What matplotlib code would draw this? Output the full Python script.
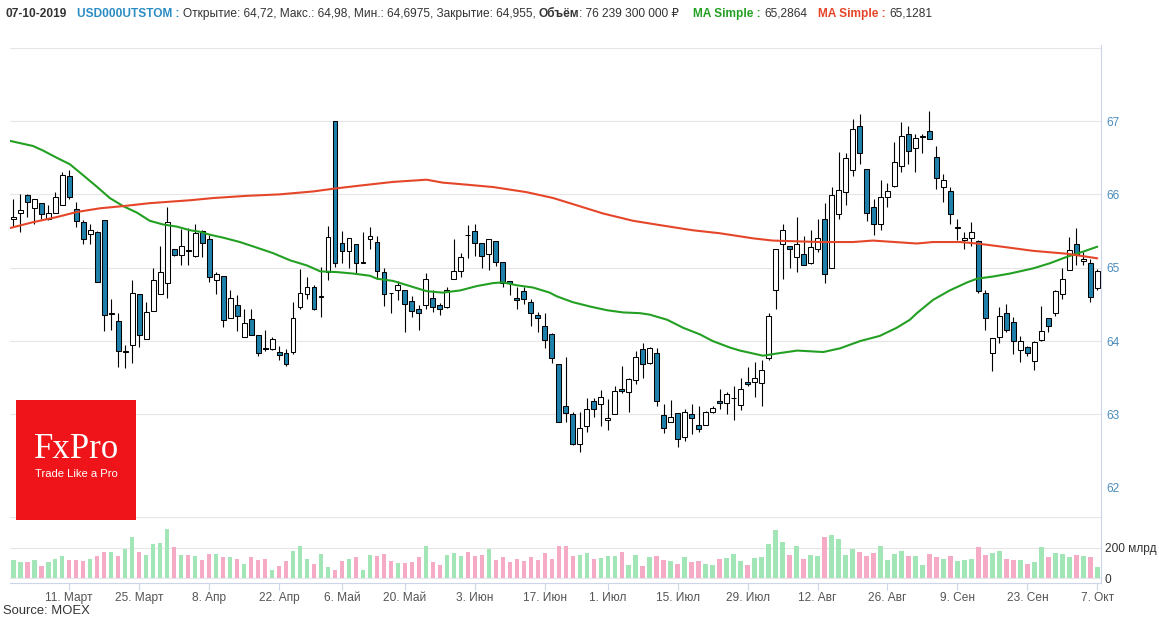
import matplotlib
matplotlib.use('Agg')
import matplotlib.pyplot as plt
from matplotlib.patches import Rectangle
from matplotlib.lines import Line2D
import numpy as np

# ---------------- data ----------------
opens = [65.66, 65.74, 65.99, 65.82, 65.88, 65.66, 65.75, 65.86, 66.25, 65.80,
         65.62, 65.46, 65.48, 65.65, 64.37, 64.27, 63.85, 63.95, 64.64, 64.03,
         64.41, 64.64, 64.79, 65.25, 65.17, 65.24, 65.16, 65.50, 65.39, 64.83,
         64.89, 64.31, 64.49, 64.05, 64.30, 64.08, 63.90, 63.89, 63.85, 63.84,
         63.85, 64.47, 64.64, 64.73, 64.60, 64.94, 67.00, 65.34, 65.23, 65.33,
         65.07, 65.39, 65.35, 64.94, 64.66, 64.69, 64.69, 64.54, 64.43, 64.49,
         64.59, 64.49, 64.47, 64.84, 64.95, 65.45, 65.50, 65.34, 65.19, 65.37,
         65.08, 64.82, 64.59, 64.68, 64.53, 64.36, 64.21, 64.09, 63.69, 63.12,
         63.00, 62.59, 62.84, 63.18, 63.14, 62.92, 63.00, 63.35, 63.30, 63.47,
         63.89, 63.70, 63.84, 62.99, 62.90, 63.02, 62.69, 63.00, 62.85, 62.85,
         63.03, 63.18, 63.16, 63.22, 63.13, 63.44, 63.44, 63.43, 63.77, 64.69,
         65.32, 65.29, 65.14, 65.18, 65.07, 65.25, 65.66, 65.00, 65.73, 66.03,
         66.33, 66.93, 66.34, 65.83, 65.60, 65.96, 66.12, 66.39, 66.83, 66.63,
         66.78, 66.86, 66.51, 66.10, 66.04, 65.54, 65.38, 65.41, 65.36, 64.65,
         63.84, 64.05, 64.38, 64.26, 63.88, 63.92, 63.73, 64.01, 64.31, 64.38,
         64.64, 64.97, 65.33, 65.09, 65.06, 64.72]
highs = [65.94, 66.01, 66.00, 65.93, 65.88, 65.85, 66.03, 66.30, 66.33, 65.89,
         65.65, 65.60, 65.50, 65.65, 64.57, 64.38, 63.94, 64.83, 64.64, 64.53,
         64.99, 65.29, 65.83, 65.25, 65.53, 65.54, 65.60, 65.51, 65.44, 64.94,
         64.89, 64.70, 64.63, 64.43, 64.44, 64.08, 64.15, 64.06, 63.93, 63.89,
         64.53, 64.98, 64.88, 64.76, 65.01, 65.57, 67.00, 65.50, 65.40, 65.33,
         65.48, 65.55, 65.43, 64.99, 64.66, 64.82, 64.69, 64.61, 64.49, 64.93,
         64.69, 64.52, 64.74, 65.39, 65.20, 65.58, 65.59, 65.34, 65.39, 65.37,
         65.08, 64.82, 64.73, 64.73, 64.57, 64.39, 64.38, 64.11, 63.69, 63.78,
         63.03, 63.03, 63.22, 63.23, 63.33, 63.21, 63.38, 63.66, 63.50, 63.87,
         63.98, 63.92, 63.90, 63.14, 63.19, 63.02, 63.08, 63.14, 63.12, 63.05,
         63.12, 63.34, 63.31, 63.38, 63.49, 63.65, 63.72, 63.74, 64.38, 65.26,
         65.59, 65.29, 65.69, 65.43, 65.52, 65.67, 65.88, 66.10, 66.58, 66.57,
         67.03, 67.10, 66.34, 65.93, 66.20, 66.16, 66.71, 66.98, 66.93, 66.83,
         66.83, 67.14, 66.66, 66.28, 66.10, 65.66, 65.48, 65.63, 65.38, 64.70,
         64.04, 64.46, 64.50, 64.33, 64.07, 63.93, 64.00, 64.48, 64.31, 64.70,
         65.00, 65.42, 65.54, 65.22, 65.12, 64.98]
lows = [65.56, 65.48, 65.69, 65.60, 65.66, 65.65, 65.75, 65.86, 65.94, 65.55,
        65.33, 65.32, 64.80, 64.14, 64.15, 63.65, 63.63, 63.70, 63.92, 64.03,
        64.41, 64.64, 64.59, 65.16, 65.04, 65.04, 65.14, 65.14, 64.81, 64.64,
        64.19, 64.31, 64.14, 64.05, 64.08, 63.80, 63.86, 63.88, 63.74, 63.66,
        63.83, 64.43, 64.58, 64.42, 64.33, 64.83, 65.01, 65.06, 65.00, 64.92,
        65.06, 65.26, 64.84, 64.48, 64.38, 64.56, 64.12, 64.33, 64.15, 64.44,
        64.39, 64.35, 64.45, 64.84, 64.88, 65.13, 65.16, 65.00, 64.97, 65.02,
        64.74, 64.63, 64.44, 64.50, 64.21, 64.13, 63.91, 63.70, 62.89, 62.89,
        62.58, 62.49, 62.76, 62.97, 62.84, 62.78, 63.00, 63.29, 63.03, 63.42,
        63.49, 63.68, 63.12, 62.75, 62.90, 62.56, 62.64, 62.73, 62.76, 62.85,
        63.02, 63.07, 63.00, 62.93, 63.06, 63.38, 63.24, 63.11, 63.74, 64.44,
        64.84, 65.00, 64.94, 65.03, 65.05, 65.22, 64.79, 65.00, 65.67, 65.86,
        66.25, 66.42, 65.64, 65.45, 65.52, 65.83, 66.10, 66.31, 66.42, 66.31,
        66.56, 66.75, 66.08, 65.89, 65.59, 65.38, 65.25, 65.29, 64.66, 64.15,
        63.59, 63.97, 64.12, 63.82, 63.72, 63.79, 63.61, 64.00, 64.12, 64.34,
        64.57, 64.97, 65.03, 65.03, 64.53, 64.6975]
closes = [65.69, 65.79, 65.89, 65.93, 65.73, 65.74, 65.97, 66.27, 65.96, 65.63,
          65.39, 65.51, 64.80, 64.35, 64.38, 63.86, 63.86, 64.65, 64.08, 64.39,
          64.83, 64.94, 65.63, 65.17, 65.29, 65.23, 65.47, 65.33, 64.87, 64.91,
          64.29, 64.59, 64.34, 64.25, 64.08, 63.83, 63.89, 64.03, 63.81, 63.68,
          64.31, 64.65, 64.73, 64.44, 64.61, 65.42, 65.07, 65.23, 65.40, 65.06,
          65.08, 65.43, 64.96, 64.64, 64.65, 64.77, 64.51, 64.41, 64.38, 64.84,
          64.46, 64.44, 64.70, 64.96, 65.15, 65.44, 65.33, 65.16, 65.39, 65.08,
          64.79, 64.79, 64.56, 64.57, 64.38, 64.31, 64.01, 63.77, 62.89, 63.02,
          62.59, 62.82, 63.07, 63.07, 63.23, 62.95, 63.32, 63.32, 63.48, 63.78,
          63.69, 63.90, 63.18, 62.81, 62.97, 62.66, 63.03, 62.95, 62.80, 63.03,
          63.08, 63.15, 63.28, 63.23, 63.35, 63.42, 63.50, 63.61, 64.34, 65.26,
          65.52, 65.26, 65.32, 65.03, 65.28, 65.40, 64.92, 65.99, 66.06, 66.50,
          66.89, 66.56, 65.74, 65.59, 65.97, 66.05, 66.44, 66.79, 66.59, 66.77,
          66.79, 66.75, 66.22, 66.20, 65.73, 65.55, 65.41, 65.49, 64.68, 64.32,
          64.04, 64.34, 64.15, 64.00, 64.00, 63.84, 63.98, 64.14, 64.21, 64.68,
          64.84, 65.24, 65.17, 65.12, 64.60, 64.955]
volumes = [122, 109, 104, 122, 82, 104, 129, 149, 122, 122,
           115, 129, 149, 175, 175, 149, 195, 269, 175, 155,
           222, 229, 322, 202, 151, 155, 149, 122, 162, 162,
           142, 142, 129, 95, 142, 122, 129, 55, 82, 115,
           182, 209, 129, 95, 162, 75, 55, 115, 129, 142,
           55, 155, 149, 162, 115, 102, 102, 109, 142, 215,
           109, 89, 155, 169, 149, 175, 149, 155, 189, 122,
           142, 109, 129, 115, 142, 122, 169, 129, 215, 209,
           144, 155, 169, 129, 135, 149, 149, 175, 89, 155,
           82, 142, 149, 122, 115, 95, 142, 109, 115, 95,
           89, 129, 135, 162, 115, 89, 135, 142, 222, 315,
           235, 155, 215, 129, 155, 149, 269, 282, 255, 155,
           195, 175, 149, 169, 209, 122, 162, 182, 149, 149,
           89, 162, 142, 129, 149, 115, 122, 129, 202, 155,
           169, 182, 129, 122, 122, 95, 109, 202, 142, 169,
           162, 142, 155, 149, 142, 76]

ma_fast_idx = [-0.5, 2.8, 4.2, 6.2, 8.1, 10.0, 12.0, 13.8, 15.7, 17.7, 19.5, 21.4,
               23.4, 25.3, 26.7, 28.1, 30.0, 32.4, 34.3, 37.1, 39.6, 42.0, 43.9,
               46.3, 48.6, 51.0, 52.0, 54.3, 56.7, 59.1, 61.4, 63.9, 66.3, 68.6,
               70.0, 72.0, 74.3, 76.7, 77.7, 80.0, 82.5, 84.9, 87.2, 89.6, 91.0,
               93.5, 95.8, 98.2, 100.0, 102.5, 103.9, 107.2, 109.2, 112.1, 115.8,
               118.2, 121.1, 123.9, 126.3, 128.2, 129.2, 131.5, 133.9, 136.4,
               137.8, 140.1, 142.5, 145.8, 148.2, 150.7, 153.0, 155.0]
ma_fast_vals = [66.73, 66.66, 66.60, 66.50, 66.41, 66.26, 66.10, 65.95, 65.84, 65.75,
                65.64, 65.59, 65.56, 65.51, 65.49, 65.45, 65.41, 65.35, 65.29, 65.20,
                65.10, 65.03, 64.95, 64.94, 64.92, 64.89, 64.85, 64.82, 64.75, 64.68,
                64.66, 64.69, 64.75, 64.79, 64.80, 64.76, 64.73, 64.66, 64.61, 64.53,
                64.47, 64.42, 64.39, 64.38, 64.36, 64.29, 64.18, 64.09, 64.00, 63.91,
                63.87, 63.80, 63.83, 63.87, 63.85, 63.90, 64.00, 64.07, 64.18, 64.29,
                64.38, 64.56, 64.69, 64.80, 64.85, 64.88, 64.92, 64.99, 65.06, 65.15,
                65.22, 65.2864]
ma_slow_idx = [-0.5, 2.8, 6.2, 9.1, 12.4, 15.7, 19.5, 25.3, 28.6, 33.4, 38.1, 42.9,
               46.0, 49.6, 54.3, 59.1, 61.4, 63.9, 68.6, 73.4, 77.2, 80.6, 84.3,
               88.6, 92.5, 97.2, 101.0, 105.8, 108.6, 115.3, 120.1, 122.9, 129.2,
               131.5, 135.4, 137.8, 141.1, 145.8, 150.7, 155.0]
ma_slow_vals = [65.54, 65.62, 65.69, 65.76, 65.81, 65.84, 65.88, 65.92, 65.95, 65.98,
                66.00, 66.04, 66.08, 66.12, 66.17, 66.20, 66.16, 66.14, 66.10, 66.03,
                65.95, 65.85, 65.74, 65.64, 65.58, 65.51, 65.47, 65.40, 65.37, 65.35,
                65.35, 65.37, 65.33, 65.35, 65.35, 65.33, 65.29, 65.23, 65.19, 65.1281]

tick_idx = [8, 18, 28, 38, 47, 56, 66, 76, 85, 95, 105, 115, 125, 135, 145, 155]
tick_labels = ['11. Март', '25. Март', '8. Апр', '22. Апр', '6. Май', '20. Май',
               '3. Июн', '17. Июн', '1. Июл', '15. Июл', '29. Июл', '12. Авг',
               '26. Авг', '9. Сен', '23. Сен', '7. Окт']
price_ticks = [62, 63, 64, 65, 66, 67, 68]
vol_ticks = [0, 200, 400]
vol_tick_labels = ['0', '200 млрд', '']

# ---------------- styling ----------------
FONT = ['Liberation Sans', 'DejaVu Sans']
plt.rcParams['font.family'] = FONT
BLUE = '#1f80aa'
GREEN_MA = '#23a023'
RED_MA = '#e5462a'
VOL_UP = '#a2e5b6'
VOL_DN = '#f5abc6'
GRID = '#e6e6e6'
AXLINE = '#ccd6eb'

W, H = 1159, 620
fig = plt.figure(figsize=(W / 100, H / 100), dpi=100)
fig.patch.set_facecolor('white')


def fx(px):
    return px / W


def fy(py):
    return 1 - py / H


left_px, right_px = 9.8, 1100.8
price_top, price_bot = 47.7, 487.7
vol_top, vol_bot = 517.3, 583.0

ax = fig.add_axes([fx(left_px), fy(price_bot), (right_px - left_px) / W,
                   (price_bot - price_top) / H])
axv = fig.add_axes([fx(left_px), fy(vol_bot), (right_px - left_px) / W,
                    (vol_bot - vol_top) / H], sharex=ax)

o = np.array(opens)
h = np.array(highs)
l = np.array(lows)
c = np.array(closes)
idx = np.arange(len(o))
up = c >= o

# candles
ax.vlines(idx, l, h, color='black', lw=0.8, zorder=2)
ax.bar(idx, c - o, bottom=o, width=0.7,
       color=np.where(up, 'white', BLUE), edgecolor='black', linewidth=0.75,
       zorder=3)
# moving averages
ax.plot(ma_fast_idx, ma_fast_vals, color=GREEN_MA, lw=1.5, zorder=4,
        solid_capstyle='round')
ax.plot(ma_slow_idx, ma_slow_vals, color=RED_MA, lw=1.5, zorder=4,
        solid_capstyle='round')

ax.set_xlim(-0.5, len(o) - 0.5)
ax.set_ylim(62, 68)
ax.set_yticks(price_ticks)
ax.set_yticklabels([str(t) if t < 68 else '' for t in price_ticks])
ax.yaxis.tick_right()
ax.tick_params(axis='y', length=0, pad=4, labelsize=8.6, labelcolor='#4a8cbc')
ax.tick_params(axis='x', length=0, labelbottom=False)
ax.grid(axis='y', color=GRID, lw=0.8, zorder=0)
ax.set_axisbelow(True)
for s in ax.spines.values():
    s.set_visible(False)
ax.patch.set_alpha(0)

# volume
axv.bar(idx, volumes, width=0.64, color=np.where(up, VOL_UP, VOL_DN), zorder=2)
axv.set_ylim(-31, 400)
axv.set_yticks(vol_ticks)
axv.set_yticklabels(vol_tick_labels)
axv.yaxis.tick_right()
axv.tick_params(axis='y', length=0, pad=3, labelsize=8.6, labelcolor='#333333')
axv.grid(axis='y', color=GRID, lw=0.8, zorder=0)
axv.set_axisbelow(True)
for k, s in axv.spines.items():
    s.set_visible(k == 'bottom')
axv.spines['bottom'].set_color(AXLINE)
axv.spines['bottom'].set_linewidth(0.8)
axv.set_xticks(tick_idx)
axv.set_xticklabels(tick_labels)
axv.tick_params(axis='x', length=5, width=0.8, color=AXLINE, pad=1.5,
                labelsize=8.6, labelcolor='#555555')
axv.patch.set_alpha(0)

# right axis line
fig.add_artist(Line2D([fx(1101), fx(1101)], [fy(45), fy(vol_bot)],
                      color=AXLINE, lw=0.8))

# logo
fig.add_artist(Rectangle((fx(16), fy(520)), 120 / W, 120 / H,
                         facecolor='#ee1419', edgecolor='none', zorder=5))
fig.text(fx(34), fy(450), 'FxPro', color='white', fontsize=25,
         family=['Liberation Serif', 'DejaVu Serif'], va='center', ha='left',
         zorder=6)
fig.text(fx(35), fy(474), 'Trade Like a Pro', color='white', fontsize=8.1,
         va='center', ha='left', zorder=6)

# source
fig.text(fx(3), fy(611), 'Source: MOEX', color='#333333', fontsize=9.4,
         va='center', ha='left')

# header
renderer = fig.canvas.get_renderer()
HY = 14


def seq(x_px, pieces):
    x = x_px
    for s, weight, color, gap in pieces:
        t = fig.text(fx(x), fy(HY), s, fontsize=8.6, fontweight=weight,
                     color=color, va='center', ha='left', family=FONT)
        bb = t.get_window_extent(renderer=renderer)
        x += bb.width + gap
    return x


seq(5, [('07-10-2019', 'bold', '#333333', 0)])
seq(77, [('USD000UTSTOM :', 'bold', '#2b8cc4', 3.3),
         ('Открытие: 64,72, Макс.: 64,98, Мин.: 64,6975, Закрытие: 64,955,',
          'normal', '#333333', 3.3),
         ('Объём', 'bold', '#333333', 0),
         (': 76 239 300 000 ₽', 'normal', '#333333', 0)])
seq(693, [('MA Simple :', 'bold', GREEN_MA, 3.3),
          ('65,2864', 'normal', '#333333', 0)])
seq(818, [('MA Simple :', 'bold', RED_MA, 3.3),
          ('65,1281', 'normal', '#333333', 0)])

fig.savefig('out.png', dpi=100, facecolor='white')
